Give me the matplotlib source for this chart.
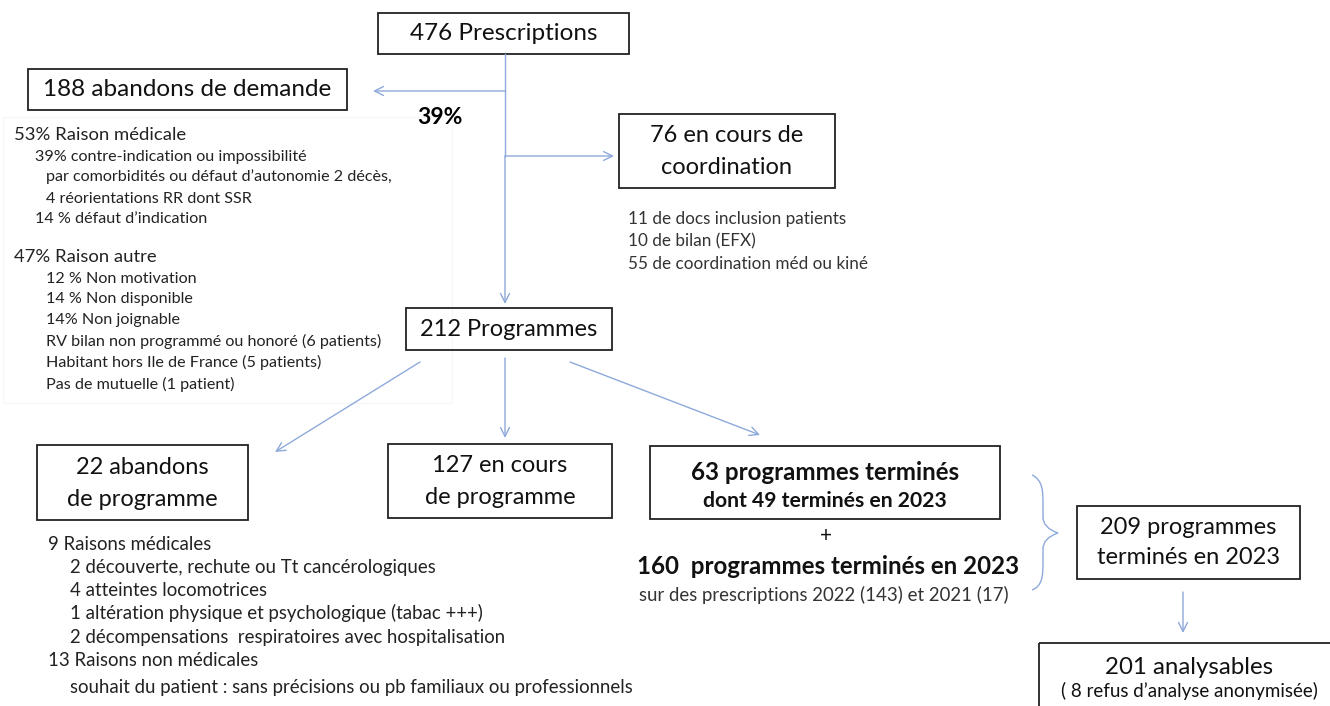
import matplotlib.pyplot as plt
from matplotlib.patches import Rectangle, PathPatch
from matplotlib.path import Path

plt.rcParams['font.family'] = ['Lato', 'DejaVu Sans']

# box labels (one entry per line)
top_box = ["476 Prescriptions"]
abandon_box = ["188 abandons de demande"]
coord_box = ["76 en cours de", "coordination"]
prog_box = ["212 Programmes"]
abandon_prog_box = ["22 abandons", "de programme"]
en_cours_box = ["127 en cours", "de programme"]
termines_box = ["63 programmes terminés", "dont 49 terminés en 2023"]
total_box = ["209 programmes", "terminés en 2023"]
analyse_box = ["201 analysables", "( 8 refus d\u2019analyse anonymisée)"]
pct_abandon = "39%"

# detail texts (text, indent level)
abandon_reasons = [
    ("53% Raison médicale", 0),
    ("39% contre-indication ou impossibilité", 1),
    ("par comorbidités ou défaut d\u2019autonomie 2 décès,", 2),
    ("4 réorientations RR dont SSR", 2),
    ("14 % défaut d\u2019indication", 1),
    ("47% Raison autre", 0),
    ("12 % Non motivation", 2),
    ("14 % Non disponible", 2),
    ("14% Non joignable", 2),
    ("RV bilan non programmé ou honoré (6 patients)", 2),
    ("Habitant hors Ile de France (5 patients)", 2),
    ("Pas de mutuelle (1 patient)", 2),
]
abandon_y = [135, 157, 177, 199, 219, 257, 279, 299, 320, 341, 362, 384]

coord_reasons = ["11 de docs inclusion patients",
                 "10 de bilan (EFX)",
                 "55 de coordination méd ou kiné"]

prog_reasons = [
    ("9 Raisons médicales", 0),
    ("2 découverte, rechute ou Tt cancérologiques", 1),
    ("4 atteintes locomotrices", 1),
    ("1 altération physique et psychologique (tabac +++)", 1),
    ("2 décompensations  respiratoires avec hospitalisation", 1),
    ("13 Raisons non médicales", 0),
    ("souhait du patient : sans précisions ou pb familiaux ou professionnels", 1),
]
prog_y = [545, 567, 590, 613, 637, 661, 688]

extra_line = "160  programmes terminés en 2023"
extra_sub = "sur des prescriptions 2022 (143) et 2021 (17)"

blue = '#8eaadb'
dark = '#222222'
grey = '#333333'

fig = plt.figure(figsize=(13.3, 7.06), dpi=100)
ax = fig.add_axes([0, 0, 1, 1])
ax.set_xlim(0, 1330)
ax.set_ylim(706, 0)
ax.axis('off')


def box(x0, y0, x1, y1, lines, ys, sizes, weight='normal', cx=None):
    ax.add_patch(Rectangle((x0, y0), x1 - x0, y1 - y0, fill=False,
                           edgecolor=dark, lw=1.3))
    if cx is None:
        cx = (x0 + x1) / 2
    for t, y, fs in zip(lines, ys, sizes):
        ax.text(cx, y, t, ha='center', va='center', fontsize=fs,
                fontweight=weight, color='#111111')


def arrow(p0, p1):
    ax.annotate('', xy=p1, xytext=p0,
                arrowprops=dict(arrowstyle='->', color=blue, lw=1,
                                mutation_scale=16, shrinkA=0, shrinkB=0))


# faint backdrop of left list
ax.add_patch(Rectangle((3, 117), 449, 286, fill=False, edgecolor='#f7f7f7', lw=1))

box(378, 13, 629, 54, top_box, [34], [17.5])
box(28, 69, 347, 110, abandon_box, [89], [17.5])
ax.text(440, 117, pct_abandon, ha='center', va='center', fontsize=16.5, fontweight='bold')

box(619, 114, 835, 188, coord_box, [136, 167], [17, 17])
for i, t in enumerate(coord_reasons):
    ax.text(628, 219 + i * 22.5, t, ha='left', va='center', fontsize=12.3, color=grey)

indent = {0: 14, 1: 35, 2: 46}
for (t, lvl), y in zip(abandon_reasons, abandon_y):
    fs = 13.3 if lvl == 0 else 11.6
    ax.text(indent[lvl], y, t, ha='left', va='center', fontsize=fs, color='#222222')

# main trunk
ax.plot([505, 505], [54, 91], color=blue, lw=1)
arrow((505, 91), (373, 91))
ax.plot([505, 505], [91, 156], color=blue, lw=1)
arrow((505, 156), (614, 156))
arrow((505, 156), (505, 304))

box(406, 308, 612, 350, prog_box, [329], [17])

arrow((420, 362), (275, 452))
arrow((505, 358), (505, 438))
arrow((570, 362), (760, 435))

box(37, 445, 248, 520, abandon_prog_box, [467, 499], [17, 17])
box(388, 444, 612, 518, en_cours_box, [466, 497], [17, 17])
box(650, 446, 1000, 519, termines_box, [472, 501], [17.4, 15.2], weight='bold', cx=825)

ax.text(826, 536, '+', ha='center', va='center', fontsize=15, color='#111111')
ax.text(828, 567, extra_line, ha='center', va='center', fontsize=17.4,
        fontweight='bold', color='#111111')
ax.text(824, 595, extra_sub, ha='center', va='center', fontsize=13.4, color=grey)

for (t, lvl), y in zip(prog_reasons, prog_y):
    x = 48 if lvl == 0 else 70
    ax.text(x, y, t, ha='left', va='center', fontsize=13.4, color='#222222')

# curly brace
verts = [(1032, 475), (1043, 480), (1043, 492), (1043, 505),
         (1043, 517), (1043, 528), (1058, 533),
         (1043, 538), (1043, 549), (1043, 561),
         (1043, 574), (1043, 586), (1032, 590)]
codes = [Path.MOVETO, Path.CURVE4, Path.CURVE4, Path.CURVE4,
         Path.LINETO, Path.CURVE3, Path.CURVE3,
         Path.CURVE3, Path.CURVE3, Path.LINETO,
         Path.CURVE4, Path.CURVE4, Path.CURVE4]
ax.add_patch(PathPatch(Path(verts, codes), fill=False, edgecolor=blue, lw=1))

box(1077, 506, 1300, 579, total_box, [528, 558], [17, 17])

arrow((1183, 592), (1183, 633))

box(1039, 643, 1345, 715, analyse_box, [667, 691], [17.3, 13.5], cx=1189)

fig.savefig('out.png', dpi=100)
